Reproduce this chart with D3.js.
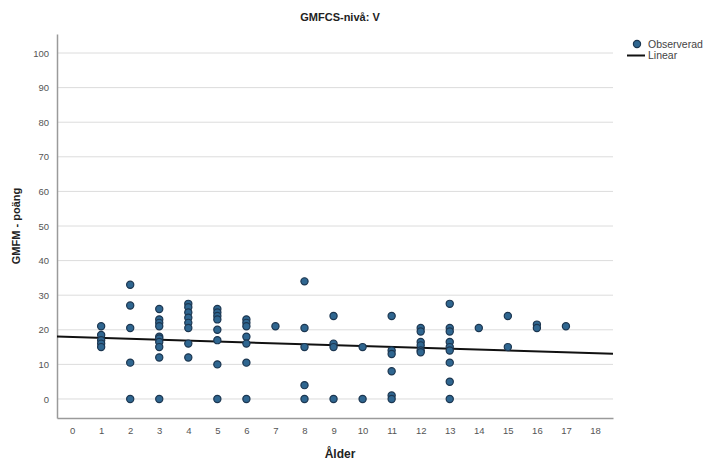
<!DOCTYPE html>
<html>
<head>
<meta charset="utf-8">
<script src="https://cdn.jsdelivr.net/npm/d3@7"></script>
<style>
  html, body { margin: 0; padding: 0; background: #ffffff; }
  svg { display: block; }
  text { font-family: "Liberation Sans Narrow", "Arial Narrow", "Liberation Sans", Arial, sans-serif; }
</style>
</head>
<body>
<svg id="chart" width="720" height="466"></svg>
<script>
// Observed GMFM scores per age (years)
const ages = [1, 2, 3, 4, 5, 6, 7, 8, 9, 10, 11, 12, 13, 14, 15, 16, 17];
const scores = [
  [21, 18.5, 17, 16, 15],
  [33, 27, 20.5, 10.5, 0],
  [26, 23, 22, 21, 18, 17.5, 16.5, 15, 12, 0],
  [27.5, 26.5, 25, 23.5, 22, 20.5, 16, 12],
  [26, 25, 24, 23, 20, 17, 10, 0],
  [23, 22, 21, 18, 16, 10.5, 0],
  [21],
  [34, 20.5, 15, 4, 0],
  [24, 16, 15, 0],
  [15, 0],
  [24, 14, 13, 8, 1, 0],
  [20.5, 19.5, 16.5, 15.5, 14, 13.5],
  [27.5, 20.5, 19.5, 16.5, 15, 14, 10.5, 5, 0],
  [20.5],
  [24, 15],
  [21.5, 20.5],
  [21]
];
// Linear fit: score = intercept + slope * age
const fitIntercept = 17.9;
const fitSlope = -0.26;

const xTicks = d3.range(0, 19);
const yTicks = d3.range(0, 101, 10);
const titleText = "GMFCS-nivå: V";
const xLabel = "Ålder";
const yLabel = "GMFM - poäng";
const legendLabels = ["Observerad", "Linear"];

const points = ages.flatMap((a, i) => scores[i].map(v => ({ age: a, score: v })));

const svg = d3.select("#chart");
const plotLeft = 57, plotRight = 613, plotTop = 34, plotBottom = 418;

const x = d3.scaleLinear().domain([-0.52, 18.62]).range([plotLeft, plotRight]);
const y = d3.scaleLinear().domain([-5.5, 105.5]).range([plotBottom, plotTop]);

// Gridlines
svg.append("g").selectAll("line").data(yTicks).join("line")
  .attr("x1", plotLeft).attr("x2", plotRight)
  .attr("y1", d => y(d)).attr("y2", d => y(d))
  .attr("stroke", "#dcdcdc").attr("stroke-width", 1);

// Axes
const xAxis = svg.append("g").attr("transform", `translate(0,${plotBottom})`)
  .call(d3.axisBottom(x).tickValues(xTicks).tickSize(0).tickPadding(9));
const yAxis = svg.append("g").attr("transform", `translate(${plotLeft},0)`)
  .call(d3.axisLeft(y).tickValues(yTicks).tickSize(0).tickPadding(8));
[xAxis, yAxis].forEach(g => {
  g.select(".domain").attr("stroke", "#9a9a9a").attr("stroke-width", 1.5);
  g.selectAll("text").attr("fill", "#555").attr("font-size", 9.5);
});

// Regression line
const xd = x.domain();
svg.append("line")
  .attr("x1", x(xd[0])).attr("y1", y(fitIntercept + fitSlope * xd[0]))
  .attr("x2", x(xd[1])).attr("y2", y(fitIntercept + fitSlope * xd[1]))
  .attr("stroke", "#111").attr("stroke-width", 2);

// Observations
svg.append("g").selectAll("circle").data(points).join("circle")
  .attr("cx", d => x(d.age)).attr("cy", d => y(d.score)).attr("r", 3.6)
  .attr("fill", "#2f6690").attr("stroke", "#1c3650").attr("stroke-width", 1.2);

// Titles
svg.append("text").attr("x", 340).attr("y", 21).attr("text-anchor", "middle")
  .attr("font-size", 11).attr("font-weight", "bold").attr("fill", "#222").text(titleText);
svg.append("text").attr("x", 340).attr("y", 458).attr("text-anchor", "middle")
  .attr("font-size", 12).attr("font-weight", "bold").attr("fill", "#222").text(xLabel);
svg.append("text").attr("transform", `translate(20,${(plotTop + plotBottom) / 2}) rotate(-90)`)
  .attr("text-anchor", "middle")
  .attr("font-size", 11).attr("font-weight", "bold").attr("fill", "#222").text(yLabel);

// Legend
const lg = svg.append("g");
lg.append("circle").attr("cx", 637).attr("cy", 44).attr("r", 3.6)
  .attr("fill", "#2f6690").attr("stroke", "#1c3650").attr("stroke-width", 1.2);
lg.append("text").attr("x", 648).attr("y", 47.5).attr("font-size", 10.5).attr("fill", "#444").text(legendLabels[0]);
lg.append("line").attr("x1", 627).attr("x2", 645).attr("y1", 55.5).attr("y2", 55.5)
  .attr("stroke", "#111").attr("stroke-width", 2);
lg.append("text").attr("x", 648).attr("y", 59).attr("font-size", 10.5).attr("fill", "#444").text(legendLabels[1]);
</script>
</body>
</html>
